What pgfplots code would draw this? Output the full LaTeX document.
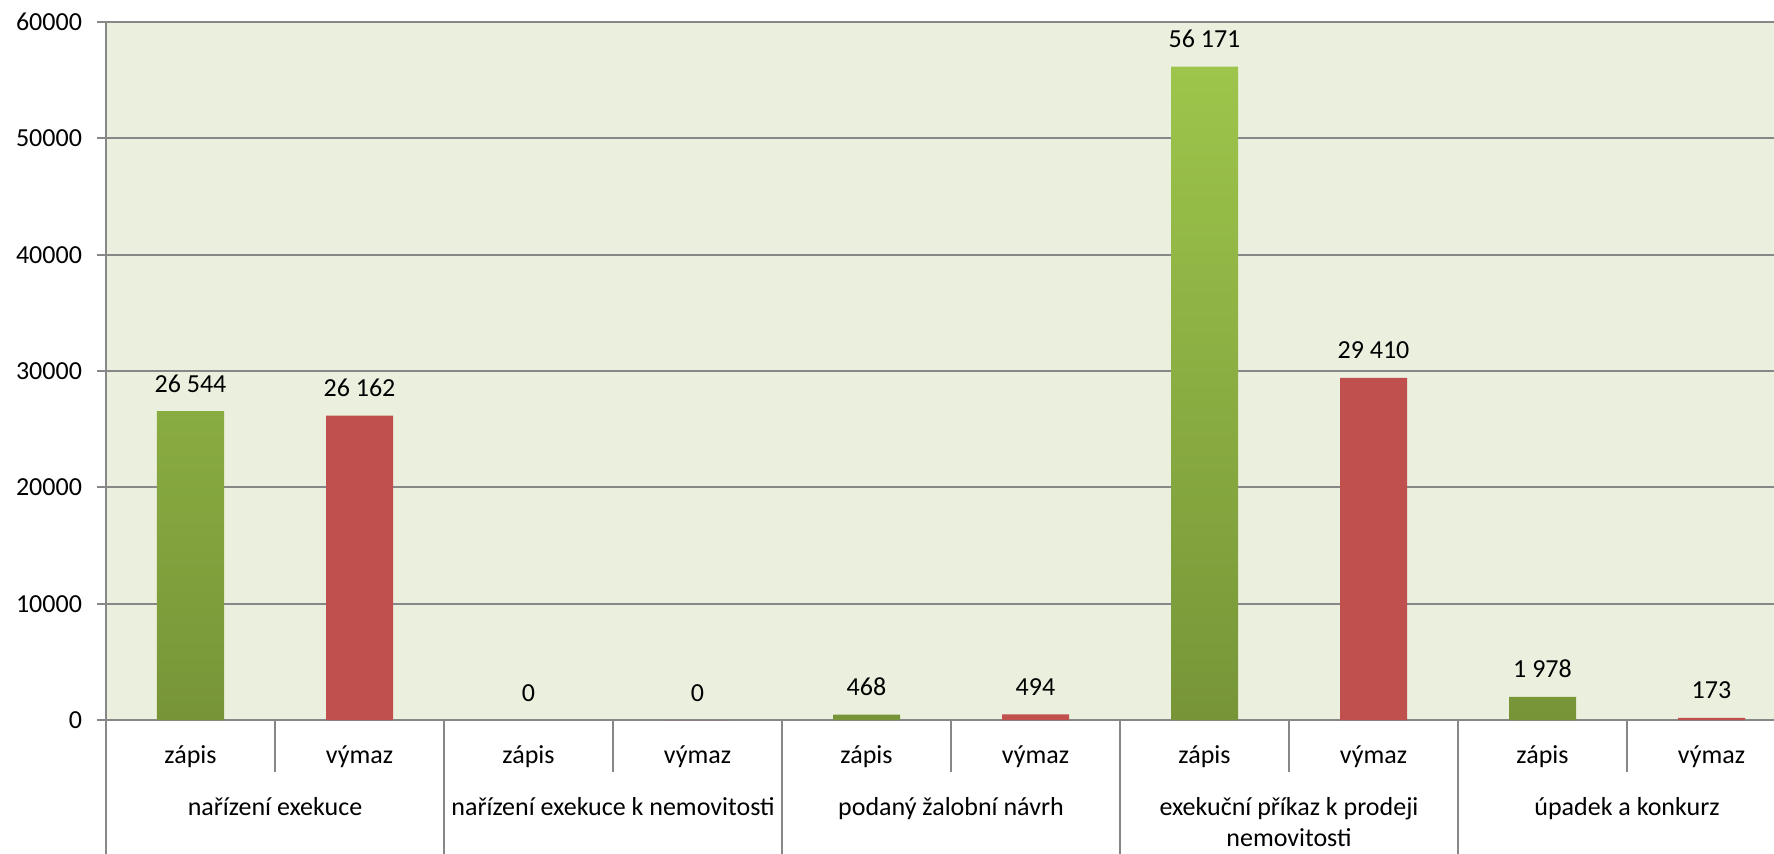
\documentclass[border=0pt]{standalone}
\usepackage{fontspec}
\setmainfont{Carlito}
\usepackage{pgfplots}
\pgfplotsset{compat=1.18}

\definecolor{bgc}{HTML}{EBF0DE}
\definecolor{gridc}{HTML}{878787}
\definecolor{gtop}{HTML}{9DC54B}
\definecolor{gbot}{HTML}{779538}
\definecolor{redc}{HTML}{C0504D}

\begin{document}
\begin{tikzpicture}[font=\fontsize{13}{15.6}\selectfont]
\begin{axis}[
  at={(0,0)}, anchor=south west,
  scale only axis, width=845pt, height=349pt,
  xmin=0, xmax=10, ymin=0, ymax=60000,
  axis background/.style={fill=bgc},
  axis line style={draw=none},
  ymajorgrids, grid style={gridc, line width=1pt},
  ytick={0,10000,...,60000},
  scaled y ticks=false,
  xtick=\empty,
  tick align=outside, major tick length=4.5pt,
  ytick style={gridc, line width=1pt},
  yticklabel style={/pgf/number format/1000 sep={},
    /pgf/number format/assume math mode=true, xshift=-4pt},
  ybar, bar width=33.5pt,
  nodes near coords,
  every node near coord/.append style={anchor=base, yshift=9.5pt, black,
    /pgf/number format/1000 sep={\ },
    /pgf/number format/assume math mode=true},
  clip=false,
]
% zápis
\addplot[bar shift=0pt, draw=none, top color=gtop, bottom color=gbot]
  coordinates {(0.5,26544) (4.5,468) (6.5,56171) (8.5,1978)};
\addplot[bar shift=0pt, draw=none, fill=none]
  coordinates {(2.5,0)};
% výmaz
\addplot[bar shift=0pt, draw=none, fill=redc]
  coordinates {(1.5,26162) (3.5,0) (5.5,494) (7.5,29410) (9.5,173)};

% category separators
\draw[gridc, line width=1pt] (axis cs:0,60000) -- (axis cs:0,0);
\pgfplotsinvokeforeach{0,2,4,6,8,10}{
  \draw[gridc, line width=1pt] (axis cs:#1,0) -- ++(0,-80pt);
}
\pgfplotsinvokeforeach{1,3,5,7,9}{
  \draw[gridc, line width=1pt] (axis cs:#1,0) -- ++(0,-26pt);
}
% category labels
\pgfplotsinvokeforeach{0.5,2.5,4.5,6.5,8.5}{
  \node[anchor=base, yshift=-21.5pt] at (axis cs:#1,0) {zápis};
}
\pgfplotsinvokeforeach{1.5,3.5,5.5,7.5,9.5}{
  \node[anchor=base, yshift=-21.5pt] at (axis cs:#1,0) {výmaz};
}
\node[anchor=base, yshift=-47.5pt] at (axis cs:1,0) {nařízení exekuce};
\node[anchor=base, yshift=-47.5pt] at (axis cs:3,0) {nařízení exekuce k nemovitosti};
\node[anchor=base, yshift=-47.5pt] at (axis cs:5,0) {podaný žalobní návrh};
\node[anchor=base, yshift=-47.5pt] at (axis cs:7,0) {exekuční příkaz k prodeji};
\node[anchor=base, yshift=-63pt] at (axis cs:7,0) {nemovitosti};
\node[anchor=base, yshift=-47.5pt] at (axis cs:9,0) {úpadek a konkurz};
\end{axis}
\pgfresetboundingbox
\path[use as bounding box] (-53pt,-66.5pt) rectangle (834pt,360pt);
\end{tikzpicture}
\end{document}
